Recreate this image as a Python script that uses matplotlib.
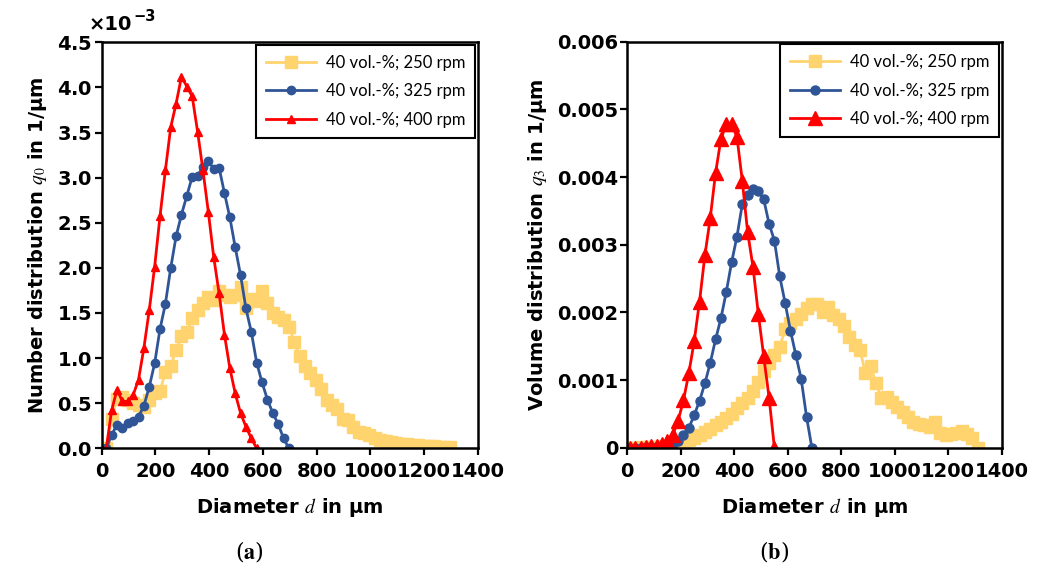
#
# Particle size distributions: number (q0) and volume (q3) distributions
# for 40 vol.-% at three stirrer speeds
#
import numpy as np
import matplotlib
matplotlib.use("Agg")
import matplotlib.pyplot as plt
from matplotlib.ticker import ScalarFormatter, FuncFormatter, MultipleLocator
#
# --------------------------------------------------------------------- #
# Data (diameters in um)
labels = ["40 vol.-%; 250 rpm", "40 vol.-%; 325 rpm", "40 vol.-%; 400 rpm"]
#
# (a) number distribution, values in 1e-3 1/um
d0_250 = np.arange(17, 1300, 20)
q0_250 = np.array([0.0, 0.33, 0.55, 0.57, 0.54, 0.50, 0.48, 0.46, 0.54, 0.61,
                   0.63, 0.85, 0.91, 1.09, 1.24, 1.29, 1.44, 1.53, 1.61, 1.68,
                   1.64, 1.74, 1.70, 1.68, 1.70, 1.79, 1.55, 1.66, 1.63, 1.74,
                   1.61, 1.50, 1.46, 1.42, 1.35, 1.18, 1.02, 0.91, 0.83, 0.76,
                   0.66, 0.54, 0.48, 0.44, 0.33, 0.31, 0.24, 0.18, 0.17, 0.15,
                   0.11, 0.09, 0.08, 0.07, 0.055, 0.05, 0.05, 0.04, 0.035, 0.03,
                   0.03, 0.03, 0.02, 0.02, 0.02])
d0_325 = np.arange(17, 700, 20)
q0_325 = np.array([0.0, 0.15, 0.26, 0.23, 0.28, 0.30, 0.35, 0.47, 0.68, 0.94,
                   1.32, 1.60, 2.00, 2.35, 2.59, 2.80, 3.01, 3.02, 3.12, 3.18,
                   3.10, 3.11, 2.83, 2.56, 2.23, 1.92, 1.55, 1.29, 0.95, 0.73,
                   0.54, 0.39, 0.27, 0.11, 0.0])
d0_400 = np.arange(17, 580, 20)
q0_400 = np.array([0.0, 0.42, 0.65, 0.52, 0.52, 0.59, 0.76, 1.11, 1.53, 2.01,
                   2.57, 3.08, 3.56, 3.82, 4.12, 4.01, 3.90, 3.51, 3.08, 2.62,
                   2.12, 1.72, 1.26, 0.89, 0.61, 0.39, 0.24, 0.11, 0.0])
#
# (b) volume distribution, values in 1e-3 1/um
d3_250 = np.arange(10, 1320, 20)
q3_250 = np.array([0.0, 0.0, 0.005, 0.01, 0.01, 0.015, 0.02, 0.03, 0.04, 0.06,
                   0.09, 0.11, 0.14, 0.19, 0.23, 0.28, 0.33, 0.38, 0.44, 0.50,
                   0.58, 0.66, 0.74, 0.84, 0.97, 1.13, 1.25, 1.37, 1.49, 1.75,
                   1.84, 1.90, 1.98, 2.07, 2.13, 2.12, 2.00, 2.08, 1.96, 1.90,
                   1.80, 1.64, 1.52, 1.45, 1.10, 1.20, 0.95, 0.73, 0.75, 0.68,
                   0.60, 0.52, 0.46, 0.38, 0.35, 0.33, 0.31, 0.38, 0.22, 0.19,
                   0.20, 0.22, 0.24, 0.20, 0.14, 0.0])
d3_325 = np.arange(10, 700, 20)
q3_325 = np.array([0.0, 0.0, 0.0, 0.005, 0.01, 0.01, 0.02, 0.03, 0.05, 0.10,
                   0.19, 0.29, 0.48, 0.69, 0.95, 1.25, 1.60, 1.91, 2.30, 2.74,
                   3.12, 3.60, 3.73, 3.83, 3.79, 3.67, 3.31, 3.06, 2.53, 2.14,
                   1.73, 1.37, 1.02, 0.46, 0.0])
d3_400 = np.arange(10, 560, 20)
q3_400 = np.array([0.0, 0.0, 0.0, 0.01, 0.02, 0.03, 0.05, 0.10, 0.19, 0.40,
                   0.70, 1.10, 1.57, 2.16, 2.84, 3.39, 4.06, 4.56, 4.78, 4.78,
                   4.59, 3.94, 3.18, 2.67, 1.97, 1.35, 0.74, 0.0])
#
# --------------------------------------------------------------------- #
# Styling
plt.rcParams["mathtext.fontset"] = "stix"
colors = ["#FFD36E", "#2F5597", "#FF0000"]
tickFont = {"family": "DejaVu Sans", "weight": "bold", "size": 14}
#
fig = plt.figure(figsize=(10.41, 5.70), dpi=100)
axA = fig.add_axes([0.0977, 0.2135, 0.3612, 0.7123])
axB = fig.add_axes([0.6026, 0.2146, 0.3597, 0.7123])
#
def styleAxis(ax):
    for s in ax.spines.values():
        s.set_linewidth(1.8)
        s.set_color("black")
    ax.tick_params(direction="out", length=5, width=1.6)
    ax.tick_params(axis="x", pad=5)
    ax.tick_params(axis="y", pad=1.5)
    for lab in ax.get_xticklabels() + ax.get_yticklabels():
        lab.set_fontproperties(tickFont)
    ax.set_xlim(0, 1400)
    ax.xaxis.set_major_locator(MultipleLocator(200))
#
# (a)
axA.plot(d0_250, q0_250 * 1e-3, color=colors[0], lw=2, marker="s", ms=8,
         label=labels[0])
axA.plot(d0_325, q0_325 * 1e-3, color=colors[1], lw=2, marker="o", ms=6,
         label=labels[1])
axA.plot(d0_400, q0_400 * 1e-3, color=colors[2], lw=2, marker="^", ms=5.5,
         label=labels[2])
axA.set_ylim(0, 4.5e-3)
axA.yaxis.set_major_locator(MultipleLocator(0.5e-3))
fmt = ScalarFormatter(useMathText=True)
fmt.set_powerlimits((-3, -3))
axA.yaxis.set_major_formatter(fmt)
axA.yaxis.get_offset_text().set_visible(False)
styleAxis(axA)
# multiplier written by hand: "x10" with a raised "-3"
t10 = axA.text(-0.036, 1.02, "×10", transform=axA.transAxes, fontsize=14,
               fontweight="bold", family="DejaVu Sans", ha="left", va="bottom")
axA.annotate("−3", xy=(1.0, 0.55), xycoords=t10, xytext=(1, 0),
             textcoords="offset points", fontsize=10.5, fontweight="bold",
             family="DejaVu Sans", ha="left", va="bottom")
axA.set_ylabel(r"Number distribution $q_0$ in 1/µm", fontsize=14,
               fontweight="bold", labelpad=6)
axA.set_xlabel(r"Diameter $d$ in µm", fontsize=14, fontweight="bold",
               labelpad=11)
#
# (b)
axB.plot(d3_250, q3_250 * 1e-3, color=colors[0], lw=2, marker="s", ms=8.5,
         label=labels[0])
axB.plot(d3_325, q3_325 * 1e-3, color=colors[1], lw=2, marker="o", ms=6.5,
         label=labels[1])
axB.plot(d3_400, q3_400 * 1e-3, color=colors[2], lw=2, marker="^", ms=10,
         label=labels[2])
axB.set_ylim(0, 0.006)
axB.yaxis.set_major_locator(MultipleLocator(0.001))
axB.yaxis.set_major_formatter(FuncFormatter(lambda v, p: "0" if abs(v) < 1e-9 else "%.3f" % v))
styleAxis(axB)
axB.set_ylabel(r"Volume distribution $q_3$ in 1/µm", fontsize=14,
               fontweight="bold", labelpad=6)
axB.set_xlabel(r"Diameter $d$ in µm", fontsize=14, fontweight="bold",
               labelpad=11)
#
for ax in (axA, axB):
    leg = ax.legend(loc="upper right", prop={"family": "Lato", "size": 12},
                    handlelength=3.0, borderaxespad=0.15, labelspacing=0.75,
                    fancybox=False, framealpha=1, borderpad=0.6,
                    handletextpad=0.6)
    leg.get_frame().set_edgecolor("black")
    leg.get_frame().set_linewidth(1.5)
#
# sub captions
fig.text(0.240, 0.032, r"($\mathbf{a}$)", fontsize=16, ha="center", va="center",
         family="DejaVu Serif")
fig.text(0.744, 0.032, r"($\mathbf{b}$)", fontsize=16, ha="center", va="center",
         family="DejaVu Serif")
#
fig.savefig("out.png", dpi=100)
